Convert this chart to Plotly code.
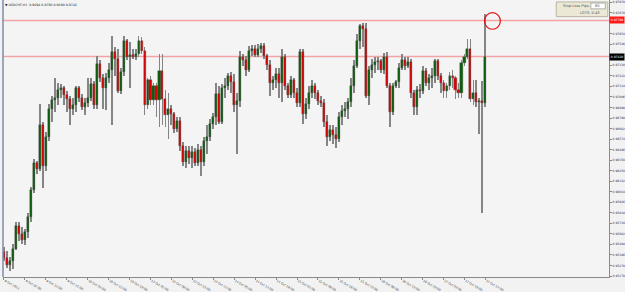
import plotly.graph_objects as go

# ---------------- data ----------------
symbol = "USDCHF,H1"

opens = [
    0.9542, 0.9535, 0.9528, 0.9532, 0.9545, 0.9568, 0.9560, 0.9554, 0.9562, 0.9578,
    0.9605, 0.9633, 0.9627, 0.9672, 0.9630, 0.9660, 0.9688, 0.9697, 0.9700, 0.9708,
    0.9710, 0.9703, 0.9698, 0.9688, 0.9692, 0.9710, 0.9700, 0.9690, 0.9694, 0.9700,
    0.9714, 0.9692, 0.9734, 0.9720, 0.9710, 0.9720, 0.9728, 0.9747, 0.9740, 0.9707,
    0.9726, 0.9758, 0.9742, 0.9744, 0.9742, 0.9745, 0.9758, 0.9748, 0.9692, 0.9718,
    0.9697, 0.9712, 0.9697, 0.9727, 0.9698, 0.9682, 0.9688, 0.9683, 0.9668, 0.9676,
    0.9650, 0.9634, 0.9645, 0.9638, 0.9644, 0.9633, 0.9646, 0.9634, 0.9655, 0.9660,
    0.9673, 0.9680, 0.9704, 0.9675, 0.9710, 0.9712, 0.9722, 0.9716, 0.9692, 0.9696,
    0.9742, 0.9738, 0.9728, 0.9748, 0.9750, 0.9744, 0.9750, 0.9753, 0.9743, 0.9733,
    0.9715, 0.9718, 0.9724, 0.9715, 0.9742, 0.9712, 0.9703, 0.9718, 0.9705, 0.9694,
    0.9747, 0.9683, 0.9693, 0.9705, 0.9712, 0.9705, 0.9696, 0.9694, 0.9675, 0.9660,
    0.9667, 0.9662, 0.9657, 0.9680, 0.9686, 0.9688, 0.9695, 0.9712, 0.9732, 0.9758,
    0.9773, 0.9770, 0.9702, 0.9728, 0.9733, 0.9736, 0.9737, 0.9728, 0.9742, 0.9712,
    0.9685, 0.9712, 0.9716, 0.9730, 0.9738, 0.9732, 0.9736, 0.9705, 0.9690, 0.9708,
    0.9707, 0.9727, 0.9715, 0.9720, 0.9722, 0.9737, 0.9722, 0.9715, 0.9707, 0.9712,
    0.9722, 0.9720, 0.9708, 0.9705, 0.9735, 0.9742, 0.9750, 0.9698, 0.9705, 0.9695,
    0.9696, 0.9694,
]
highs = [
    0.9547, 0.9543, 0.9536, 0.9550, 0.9572, 0.9572, 0.9567, 0.9565, 0.9582, 0.9608,
    0.9637, 0.9635, 0.9693, 0.9675, 0.9665, 0.9693, 0.9702, 0.9720, 0.9715, 0.9714,
    0.9712, 0.9707, 0.9702, 0.9700, 0.9712, 0.9712, 0.9704, 0.9700, 0.9720, 0.9720,
    0.9717, 0.9743, 0.9738, 0.9724, 0.9725, 0.9735, 0.9763, 0.9752, 0.9750, 0.9730,
    0.9763, 0.9760, 0.9757, 0.9750, 0.9750, 0.9763, 0.9762, 0.9752, 0.9720, 0.9722,
    0.9715, 0.9715, 0.9745, 0.9745, 0.9708, 0.9705, 0.9692, 0.9685, 0.9680, 0.9680,
    0.9654, 0.9650, 0.9650, 0.9650, 0.9648, 0.9652, 0.9650, 0.9660, 0.9672, 0.9678,
    0.9684, 0.9715, 0.9712, 0.9714, 0.9720, 0.9725, 0.9726, 0.9724, 0.9705, 0.9748,
    0.9745, 0.9743, 0.9753, 0.9754, 0.9754, 0.9755, 0.9756, 0.9756, 0.9745, 0.9738,
    0.9722, 0.9730, 0.9730, 0.9750, 0.9745, 0.9715, 0.9722, 0.9720, 0.9710, 0.9750,
    0.9750, 0.9700, 0.9712, 0.9718, 0.9715, 0.9708, 0.9702, 0.9698, 0.9682, 0.9672,
    0.9672, 0.9670, 0.9685, 0.9692, 0.9695, 0.9700, 0.9720, 0.9738, 0.9765, 0.9775,
    0.9776, 0.9776, 0.9732, 0.9740, 0.9742, 0.9742, 0.9740, 0.9746, 0.9747, 0.9715,
    0.9715, 0.9718, 0.9735, 0.9745, 0.9742, 0.9742, 0.9740, 0.9708, 0.9712, 0.9714,
    0.9732, 0.9730, 0.9724, 0.9730, 0.9740, 0.9740, 0.9725, 0.9718, 0.9715, 0.9726,
    0.9728, 0.9722, 0.9715, 0.9738, 0.9745, 0.9760, 0.9760, 0.9718, 0.9718, 0.9700,
    0.9717, 0.9786,
]
lows = [
    0.9532, 0.9525, 0.9522, 0.9524, 0.9544, 0.9553, 0.9550, 0.9549, 0.9556, 0.9572,
    0.9602, 0.9622, 0.9625, 0.9607, 0.9625, 0.9655, 0.9675, 0.9685, 0.9692, 0.9700,
    0.9692, 0.9685, 0.9672, 0.9682, 0.9685, 0.9695, 0.9687, 0.9682, 0.9690, 0.9696,
    0.9688, 0.9688, 0.9716, 0.9688, 0.9687, 0.9715, 0.9672, 0.9722, 0.9705, 0.9704,
    0.9722, 0.9738, 0.9710, 0.9740, 0.9738, 0.9742, 0.9745, 0.9682, 0.9688, 0.9692,
    0.9692, 0.9680, 0.9670, 0.9672, 0.9670, 0.9657, 0.9672, 0.9664, 0.9665, 0.9645,
    0.9630, 0.9628, 0.9632, 0.9628, 0.9630, 0.9630, 0.9620, 0.9630, 0.9642, 0.9655,
    0.9668, 0.9672, 0.9673, 0.9673, 0.9700, 0.9708, 0.9705, 0.9685, 0.9642, 0.9690,
    0.9732, 0.9722, 0.9726, 0.9743, 0.9742, 0.9742, 0.9746, 0.9740, 0.9728, 0.9702,
    0.9708, 0.9710, 0.9700, 0.9695, 0.9708, 0.9700, 0.9700, 0.9700, 0.9690, 0.9690,
    0.9673, 0.9678, 0.9688, 0.9700, 0.9698, 0.9692, 0.9690, 0.9670, 0.9650, 0.9655,
    0.9652, 0.9648, 0.9654, 0.9672, 0.9680, 0.9678, 0.9690, 0.9705, 0.9730, 0.9750,
    0.9752, 0.9700, 0.9692, 0.9720, 0.9725, 0.9728, 0.9725, 0.9724, 0.9710, 0.9670,
    0.9682, 0.9710, 0.9710, 0.9728, 0.9728, 0.9730, 0.9700, 0.9682, 0.9682, 0.9700,
    0.9704, 0.9712, 0.9708, 0.9710, 0.9715, 0.9718, 0.9705, 0.9700, 0.9700, 0.9708,
    0.9710, 0.9698, 0.9700, 0.9700, 0.9732, 0.9740, 0.9695, 0.9692, 0.9690, 0.9663,
    0.9582, 0.9690,
]
closes = [
    0.9535, 0.9528, 0.9532, 0.9545, 0.9568, 0.9560, 0.9554, 0.9562, 0.9578, 0.9605,
    0.9633, 0.9627, 0.9672, 0.9630, 0.9660, 0.9688, 0.9697, 0.9700, 0.9708, 0.9710,
    0.9703, 0.9698, 0.9688, 0.9692, 0.9710, 0.9700, 0.9690, 0.9694, 0.9700, 0.9714,
    0.9692, 0.9734, 0.9720, 0.9710, 0.9720, 0.9728, 0.9747, 0.9740, 0.9707, 0.9726,
    0.9758, 0.9742, 0.9744, 0.9742, 0.9745, 0.9758, 0.9748, 0.9692, 0.9718, 0.9697,
    0.9712, 0.9697, 0.9727, 0.9698, 0.9682, 0.9688, 0.9683, 0.9668, 0.9676, 0.9650,
    0.9634, 0.9645, 0.9638, 0.9644, 0.9633, 0.9646, 0.9634, 0.9655, 0.9660, 0.9673,
    0.9680, 0.9704, 0.9675, 0.9710, 0.9712, 0.9722, 0.9716, 0.9692, 0.9696, 0.9742,
    0.9738, 0.9728, 0.9748, 0.9750, 0.9744, 0.9750, 0.9753, 0.9743, 0.9733, 0.9715,
    0.9718, 0.9724, 0.9715, 0.9742, 0.9712, 0.9703, 0.9718, 0.9705, 0.9694, 0.9747,
    0.9683, 0.9693, 0.9705, 0.9712, 0.9705, 0.9696, 0.9694, 0.9675, 0.9660, 0.9667,
    0.9662, 0.9657, 0.9680, 0.9686, 0.9688, 0.9695, 0.9712, 0.9732, 0.9758, 0.9773,
    0.9770, 0.9702, 0.9728, 0.9733, 0.9736, 0.9737, 0.9728, 0.9742, 0.9712, 0.9685,
    0.9712, 0.9716, 0.9730, 0.9738, 0.9732, 0.9736, 0.9705, 0.9690, 0.9708, 0.9707,
    0.9727, 0.9715, 0.9720, 0.9722, 0.9737, 0.9722, 0.9715, 0.9707, 0.9712, 0.9722,
    0.9720, 0.9708, 0.9705, 0.9735, 0.9742, 0.9750, 0.9698, 0.9705, 0.9695, 0.9696,
    0.9694, 0.9742,
]

time_labels = [
    "9 Oct 2014", "9 Oct 07:00", "9 Oct 14:00", "9 Oct 21:00", "10 Oct 04:00",
    "10 Oct 11:00", "10 Oct 18:00", "13 Oct 01:00", "13 Oct 08:00", "13 Oct 15:00",
    "13 Oct 22:00", "14 Oct 05:00", "14 Oct 12:00", "14 Oct 19:00", "15 Oct 02:00",
    "15 Oct 09:00", "15 Oct 16:00", "15 Oct 23:00", "16 Oct 06:00", "16 Oct 13:00",
    "16 Oct 20:00", "17 Oct 03:00", "17 Oct 10:00", "17 Oct 17:00",
]

stop_level = 0.9779
bid_level = 0.9742
stop_loss_pips = "60"
lots = "0.43"

# price-scale tick grid of the terminal
price_tick_start = 0.9517
price_tick_step = 0.00108
price_tick_count = 27

# ---------------- figure ----------------
bar_index = list(range(len(closes)))
label_bars = bar_index[::7][:len(time_labels)]

# price ticks, leaving out those hidden behind the level labels
price_ticks = []
for k in range(price_tick_count):
    v = round(price_tick_start + k * price_tick_step, 5)
    if abs(v - stop_level) < 0.0004 or abs(v - bid_level) < 0.0004:
        continue
    price_ticks.append(v)

UP = "#0a600a"
DOWN = "#e00000"
WICK = "#858585"
FONT = "DejaVu Sans"

fig = go.Figure()

# wicks: thin bars from low to high
fig.add_trace(go.Bar(
    x=bar_index,
    y=[h - l for h, l in zip(highs, lows)],
    base=lows,
    width=0.3,
    marker=dict(color=WICK, line=dict(width=0)),
    showlegend=False, hoverinfo="skip",
))

# bodies: bars from open to close, coloured by direction
body_colors = [UP if c >= o else DOWN for o, c in zip(opens, closes)]
fig.add_trace(go.Bar(
    x=bar_index,
    y=[c - o for o, c in zip(opens, closes)],
    base=opens,
    width=0.68,
    marker=dict(color=body_colors, line=dict(color="#4a4a4a", width=0.4)),
    showlegend=False, hoverinfo="skip",
))

# price levels
for lvl in (stop_level, bid_level):
    fig.add_shape(type="line", xref="paper", x0=0, x1=1, yref="y", y0=lvl, y1=lvl,
                  line=dict(color="#f2a4a4", width=1.5), layer="below")

# left frame line
fig.add_shape(type="line", xref="paper", yref="paper", x0=0, x1=0, y0=0, y1=1,
              line=dict(color="#7d8caa", width=1.5))

# hand-drawn red circle around the spike
fig.add_shape(type="circle", xref="x", yref="y", x0=160.7, x1=166.0, y0=0.9770, y1=0.9787,
              line=dict(color="#e01010", width=1.2))

# Stop loss panel
fig.add_shape(type="rect", xref="paper", yref="paper", x0=0.913, x1=0.998, y0=0.940, y1=0.993,
              fillcolor="#ebe8d6", line=dict(color="#b9b59f", width=1))
fig.add_shape(type="rect", xref="paper", yref="paper", x0=0.970, x1=0.994, y0=0.968, y1=0.989,
              fillcolor="#ffffff", line=dict(color="#9c9c9c", width=0.8))

annotations = [
    dict(text="▼ " + symbol + "  " + "{:.4f} {:.4f} {:.4f} {:.4f}".format(opens[-1], highs[-1], lows[-1], closes[-1]),
         xref="paper", yref="paper", x=0.0, y=0.998, xanchor="left", yanchor="top",
         showarrow=False, font=dict(size=3.2, color="#222", family=FONT)),
    dict(text="Stop Loss Pips:", xref="paper", yref="paper", x=0.921, y=0.979,
         xanchor="left", yanchor="middle", showarrow=False,
         font=dict(size=3.6, color="#555", family=FONT)),
    dict(text=stop_loss_pips, xref="paper", yref="paper", x=0.973, y=0.979,
         xanchor="left", yanchor="middle", showarrow=False,
         font=dict(size=3.6, color="#555", family=FONT)),
    dict(text="LOTS: " + lots, xref="paper", yref="paper", x=0.988, y=0.954,
         xanchor="right", yanchor="middle", showarrow=False,
         font=dict(size=3.6, color="#555", family=FONT)),
    dict(text="{:.5f}".format(stop_level), xref="paper", yref="y", x=1.0, y=stop_level,
         xanchor="left", yanchor="middle", showarrow=False, bgcolor="#ff1a1a",
         borderpad=0.8, font=dict(size=3, color="#ffffff", family=FONT)),
    dict(text="{:.5f}".format(bid_level), xref="paper", yref="y", x=1.0, y=bid_level,
         xanchor="left", yanchor="middle", showarrow=False, bgcolor="#000000",
         borderpad=0.8, font=dict(size=3, color="#ffffff", family=FONT)),
]

fig.update_layout(
    width=625, height=292,
    margin=dict(l=3, r=14, t=0, b=8),
    paper_bgcolor="#f2f2f2",
    plot_bgcolor="#f4f4f4",
    barmode="overlay",
    bargap=0,
    showlegend=False,
    annotations=annotations,
    font=dict(family=FONT, size=3, color="#333"),
    xaxis=dict(
        range=[-0.33, 202.33],
        tickmode="array", tickvals=label_bars, ticktext=time_labels,
        ticklabelposition="outside right",
        ticks="outside", ticklen=2, tickcolor="#888", tickwidth=1,
        tickfont=dict(size=3, color="#333", family=FONT),
        showgrid=False, zeroline=False, showline=True, linecolor="#8a8a8a", linewidth=1,
    ),
    yaxis=dict(
        side="right", range=[0.9516, 0.9800],
        tickmode="array", tickvals=price_ticks, tickformat=".5f",
        ticks="outside", ticklen=2, tickcolor="#888", tickwidth=1,
        tickfont=dict(size=3, color="#333", family=FONT),
        showgrid=False, zeroline=False, showline=True, linecolor="#8a8a8a", linewidth=1,
    ),
)

fig.write_html("out.html")
